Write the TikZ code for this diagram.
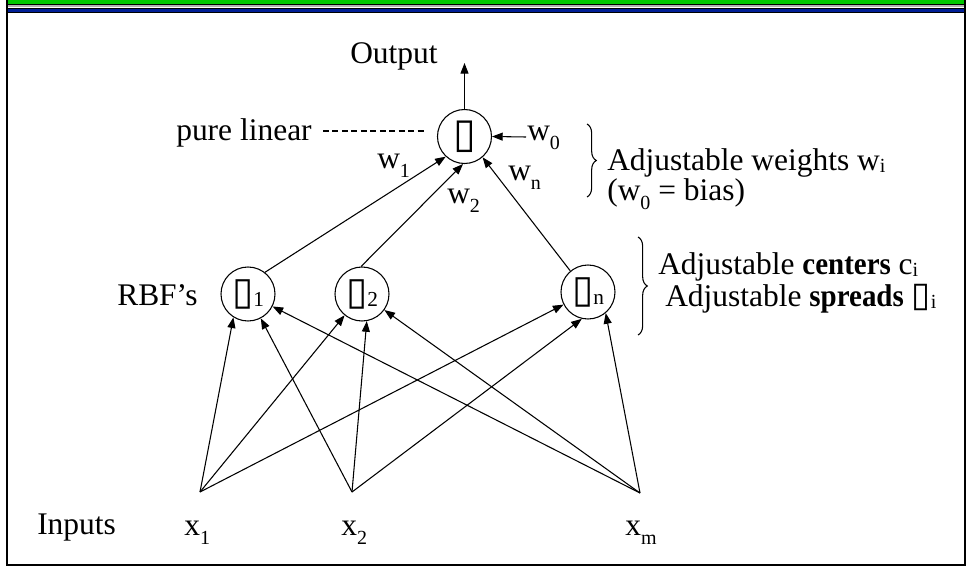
\documentclass[tikz,border=0pt]{standalone}
\usepackage{fontspec}
\setmainfont{Liberation Serif}
\newfontfamily\dejavu{DejaVu Sans}
\usetikzlibrary{arrows.meta,decorations.pathreplacing}
\definecolor{bargreen}{RGB}{0,200,0}
\definecolor{barblue}{RGB}{0,30,150}
\newcommand\sbs[1]{\raisebox{-6.8pt}{\fontsize{15}{15}\selectfont #1}}
\newcommand\sbc[1]{\raisebox{-2pt}{\fontsize{15}{15}\selectfont #1}}
\newcommand\sbl[1]{\raisebox{-1.5pt}{\fontsize{16}{16}\selectfont #1}}
\newcommand\tofu{{\dejavu\fontsize{31}{31}\selectfont ▯}}
\newcommand\tofus{{\dejavu\fontsize{29}{29}\selectfont ▯}}
\newcommand\tofut{{\dejavu\fontsize{26}{26}\selectfont ▯}}
\newcommand\bw[1]{\scalebox{0.92}[1]{\textbf{#1}}}
\begin{document}
\begin{tikzpicture}[x=0.75pt,y=-0.75pt,
  every node/.style={font=\fontsize{23.6}{28}\selectfont, inner sep=0pt},
  unit/.style={circle,draw,line width=0.8pt,minimum size=40.5pt},
  lab/.style={anchor=base west},
  conn/.style={line width=0.8pt,-{Triangle[length=8pt,width=6pt]}},
  dashline/.style={line width=0.8pt,dash pattern=on 4.5pt off 2.6pt},
  bracestyle/.style={line width=0.8pt,decorate,decoration={brace,amplitude=7pt}},
]
\useasboundingbox (0,0) rectangle (968,571);
% top bars and frame
\fill[bargreen] (7,0) rectangle (965,4);
\draw[line width=0.8pt] (7,4.3) -- (965,4.3);
\draw[gray!60,line width=1.2pt] (7,5.8) -- (965,5.8);
\filldraw[fill=barblue,draw=black,line width=0.6pt] (7,8.8) rectangle (965,12.4);
\draw[line width=1pt] (7,0) -- (7,565) -- (965,565) -- (965,0);

% units
\node[unit] (out) at (464.5,136.5) {\tofu};
\node[unit] (phi1) at (248,294) {\tofus\sbl{1}};
\node[unit] (phi2) at (362,294) {\tofus\sbl{2}};
\node[unit] (phin) at (588,292) {\tofus\sbl{n}};

% input points
\coordinate (i1) at (200,492);
\coordinate (i2) at (352,492);
\coordinate (im) at (640,493);
\coordinate (otip) at (464.5,63);
\coordinate (w0t) at (526,137);
\coordinate (dl1) at (323,131);
\coordinate (dl2) at (427,131);

% labels
\node[lab] (outl) at (350,63) {Output};
\node[lab] (pl) at (176,140) {pure linear};
\node[lab] (w0) at (527,140) {w\sbs{0}};
\node[lab] (w1) at (377,168) {w\sbs{1}};
\node[lab] (w2) at (447,203) {w\sbs{2}};
\node[lab] (wn) at (508,180) {w\sbs{n}};
\node[lab] (aw) at (607,170) {Adjustable weights w\sbc{i}};
\node[lab] (bias) at (607,200) {(w\sbs{0} = bias)};
\node[lab] (ac) at (658,274) {Adjustable \bw{centers} c\sbc{i}};
\node[lab] (as) at (665,306) {Adjustable \bw{spreads} \tofut\sbc{i}};
\node[lab] (rbf) at (117,305) {RBF’s};
\node[lab] (inp) at (37,534) {Inputs};
\node[lab] (x1) at (184,535) {x\sbs{1}};
\node[lab] (x2) at (341,535) {x\sbs{2}};
\node[lab] (xm) at (625,535) {x\sbs{m}};

% output connections
\draw[conn] (out) -- (otip);
\draw[conn] (w0t) -- (out.east);
\draw[dashline] (dl1) -- (dl2);
\draw[conn] (phi1.52) -- (out.227);
\draw[conn] (phi2.92) -- (out.267);
\draw[conn] (phin.130) -- (out.311);

% input connections
\draw[conn] (i1) -- (phi1.238);
\draw[conn] (i1) -- (phi2);
\draw[conn] (i1) -- (phin);
\draw[conn] (i2) -- (phi1);
\draw[conn] (i2) -- (phi2.280);
\draw[conn] (i2) -- (phin.257);
\draw[conn] (im) -- (phi1);
\draw[conn] (im) -- (phi2);
\draw[conn] (im) -- (phin.310);

% braces
\draw[bracestyle] (587,124) -- (587,197);
\draw[bracestyle] (638,237) -- (638,335);
\end{tikzpicture}
\end{document}
